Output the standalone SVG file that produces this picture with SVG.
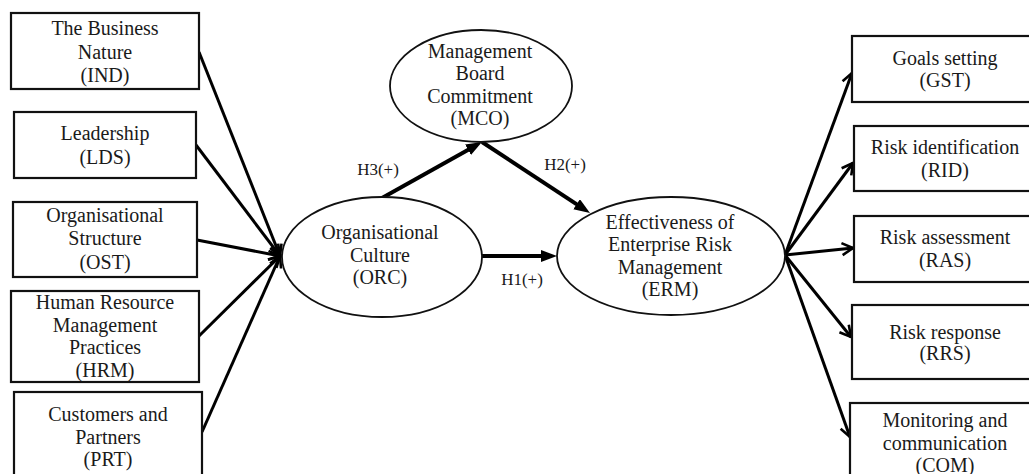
<svg xmlns="http://www.w3.org/2000/svg" width="1029" height="474" viewBox="0 0 1029 474">
<style>
.box{fill:#fff;stroke:#111;stroke-width:2.2}
.ell{fill:#fff;stroke:#111;stroke-width:1.8}
.t{font-family:"Liberation Serif","Times New Roman",serif;font-size:20px;fill:#1a1a1a;text-anchor:middle}
.h{font-family:"Liberation Serif","Times New Roman",serif;font-size:17px;fill:#1a1a1a;text-anchor:middle}
.c{stroke:#000;stroke-width:3;fill:none}
.hc{stroke:#000;stroke-width:4;fill:none}
</style>
<defs>
<marker id="chev" markerUnits="userSpaceOnUse" markerWidth="16" markerHeight="16" refX="13" refY="8" orient="auto">
<path d="M2,2 L13,8 L2,14" fill="none" stroke="#000" stroke-width="2.6" stroke-linejoin="miter"/>
</marker>
<marker id="tri" markerUnits="userSpaceOnUse" markerWidth="18" markerHeight="14" refX="8" refY="6" orient="auto">
<path d="M0,0 L16,6 L0,12 z" fill="#000"/>
</marker>
</defs>
<rect width="1029" height="474" fill="#fff"/>

<g id="connectors">
<line class="c" x1="199" y1="52" x2="280" y2="256" marker-end="url(#chev)"/>
<line class="c" x1="196" y1="145" x2="280" y2="256" marker-end="url(#chev)"/>
<line class="c" x1="197" y1="240" x2="280" y2="256" marker-end="url(#chev)"/>
<line class="c" x1="199" y1="336" x2="280" y2="256" marker-end="url(#chev)"/>
<line class="c" x1="202" y1="432" x2="280" y2="256" marker-end="url(#chev)"/>
<line class="hc" x1="382" y1="198" x2="475" y2="145.9" marker-end="url(#tri)"/>
<line class="hc" x1="482" y1="142" x2="583.3" y2="208.6" marker-end="url(#tri)"/>
<line class="hc" x1="482" y1="256" x2="549" y2="256" marker-end="url(#tri)"/>
<line class="c" x1="785" y1="255" x2="852" y2="73" marker-end="url(#chev)"/>
<line class="c" x1="785" y1="255" x2="853" y2="163" marker-end="url(#chev)"/>
<line class="c" x1="785" y1="255" x2="853" y2="248" marker-end="url(#chev)"/>
<line class="c" x1="785" y1="255" x2="851" y2="337" marker-end="url(#chev)"/>
<line class="c" x1="785" y1="255" x2="850" y2="437" marker-end="url(#chev)"/>
<text class="h" x="378" y="175">H3(+)</text>
<text class="h" x="565" y="170">H2(+)</text>
<text class="h" x="522" y="285">H1(+)</text>
</g>

<g id="IND">
<rect class="box" x="11" y="13" width="188" height="76"/>
<text class="t" x="105" y="35">The Business</text>
<text class="t" x="105" y="59">Nature</text>
<text class="t" x="105" y="82">(IND)</text>
</g>
<g id="LDS">
<rect class="box" x="14" y="112" width="182" height="66"/>
<text class="t" x="105" y="140">Leadership</text>
<text class="t" x="105" y="164">(LDS)</text>
</g>
<g id="OST">
<rect class="box" x="13" y="202" width="184" height="75"/>
<text class="t" x="105" y="222">Organisational</text>
<text class="t" x="105" y="245">Structure</text>
<text class="t" x="105" y="269">(OST)</text>
</g>
<g id="HRM">
<rect class="box" x="11" y="291" width="188" height="91"/>
<text class="t" x="105" y="309">Human Resource</text>
<text class="t" x="105" y="332">Management</text>
<text class="t" x="105" y="354">Practices</text>
<text class="t" x="105" y="377">(HRM)</text>
</g>
<g id="PRT">
<rect class="box" x="14" y="392" width="188" height="90"/>
<text class="t" x="108" y="421">Customers and</text>
<text class="t" x="108" y="444">Partners</text>
<text class="t" x="108" y="466">(PRT)</text>
</g>

<g id="MCO">
<ellipse class="ell" cx="481" cy="86" rx="91" ry="56"/>
<text class="t" x="480" y="58">Management</text>
<text class="t" x="480" y="80">Board</text>
<text class="t" x="480" y="103">Commitment</text>
<text class="t" x="480" y="125">(MCO)</text>
</g>
<g id="ORC">
<ellipse class="ell" cx="382" cy="257" rx="100" ry="60"/>
<text class="t" x="380" y="239">Organisational</text>
<text class="t" x="380" y="262">Culture</text>
<text class="t" x="380" y="284">(ORC)</text>
</g>
<g id="ERM">
<ellipse class="ell" cx="671" cy="256" rx="114" ry="59"/>
<text class="t" x="670" y="229">Effectiveness of</text>
<text class="t" x="670" y="251">Enterprise Risk</text>
<text class="t" x="670" y="274">Management</text>
<text class="t" x="670" y="296">(ERM)</text>
</g>

<g id="GST">
<rect class="box" x="852" y="36" width="190" height="66"/>
<text class="t" x="945" y="65">Goals setting</text>
<text class="t" x="945" y="87">(GST)</text>
</g>
<g id="RID">
<rect class="box" x="854" y="126" width="190" height="65"/>
<text class="t" x="945" y="154">Risk identification</text>
<text class="t" x="945" y="177">(RID)</text>
</g>
<g id="RAS">
<rect class="box" x="854" y="216" width="190" height="66"/>
<text class="t" x="945" y="244">Risk assessment</text>
<text class="t" x="945" y="267">(RAS)</text>
</g>
<g id="RRS">
<rect class="box" x="852" y="305" width="190" height="74"/>
<text class="t" x="945" y="339">Risk response</text>
<text class="t" x="945" y="360">(RRS)</text>
</g>
<g id="COM">
<rect class="box" x="850" y="403" width="190" height="80"/>
<text class="t" x="945" y="427">Monitoring and</text>
<text class="t" x="945" y="450">communication</text>
<text class="t" x="945" y="472">(COM)</text>
</g>
</svg>
